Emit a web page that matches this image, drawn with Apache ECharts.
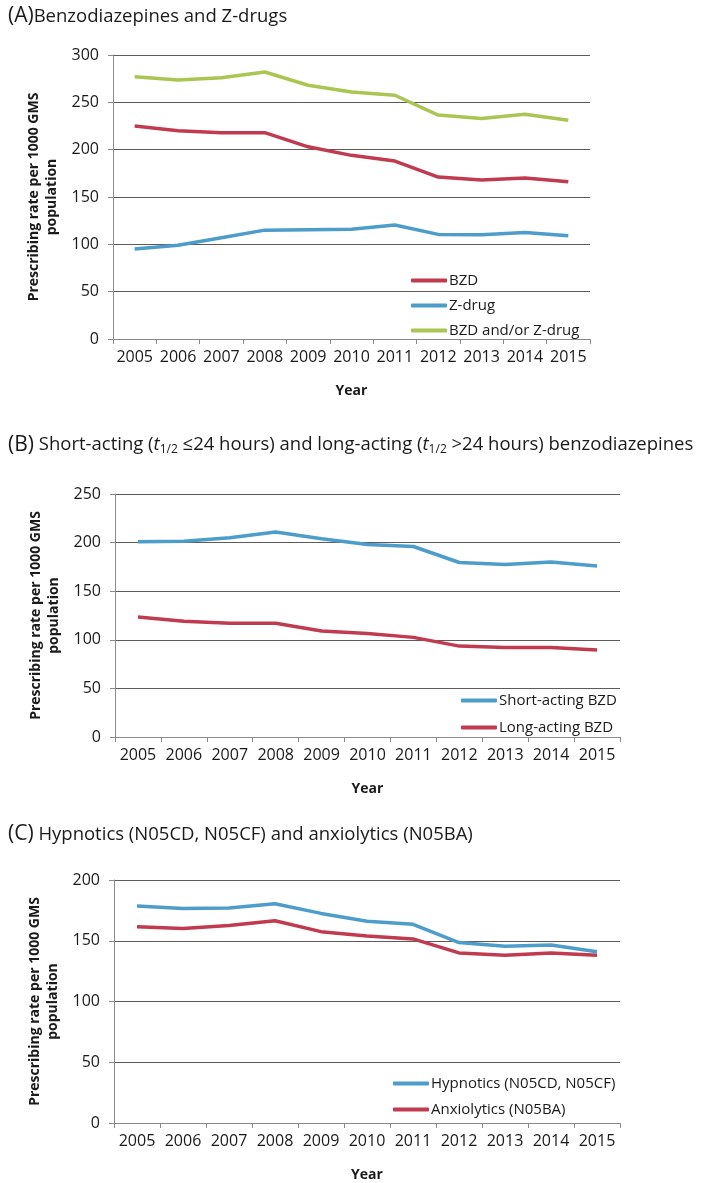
<!DOCTYPE html>
<html>
<head>
<meta charset="utf-8">
<script src="https://cdn.jsdelivr.net/npm/echarts@6/dist/echarts.min.js"></script>
<style>
html,body{margin:0;padding:0;background:#fff;}
#chart{width:709px;height:1183px;}
</style>
</head>
<body>
<div id="chart"></div>
<script>
// ---- data ----
var years = ['2005','2006','2007','2008','2009','2010','2011','2012','2013','2014','2015'];

// Panel A
var bzd      = [225, 220, 218, 218, 203, 194, 188, 171, 168, 170, 166];
var zdrug    = [95, 99, 107, 115, 115.5, 116, 120.5, 110.5, 110, 112.5, 109];
var bzdOrZ   = [277, 273.5, 276, 282, 268, 261, 257.5, 236.5, 233, 237.5, 231];

// Panel B
var shortActing = [201, 201.5, 205, 211, 204, 198, 196, 179.5, 177.5, 180, 176];
var longActing  = [123.5, 119, 117, 117, 109, 106.5, 102.5, 93.5, 92, 92, 89.5];

// Panel C
var hypnotics   = [178.5, 176.5, 177, 180.5, 172.5, 166, 163.5, 148.5, 145.5, 146.5, 141];
var anxiolytics = [161.5, 160, 162.5, 166.5, 157.5, 154, 151.5, 140, 138, 140, 138];

var yTicksA = {min: 0, max: 300, interval: 50};
var yTicksB = {min: 0, max: 250, interval: 50};
var yTicksC = {min: 0, max: 200, interval: 50};

// ---- style ----
var RED = '#c03a50', BLUE = '#4c9dca', GREEN = '#aac552';
var FONT = '"Open Sans", "Liberation Sans", sans-serif';
var TXT = '#1a1a1a';
var GRIDC = '#5e5a58';
var AXISC = '#8a8a8a';

function xAx(gi) {
  return {
    type: 'category', gridIndex: gi, data: years, boundaryGap: true,
    name: 'Year', nameLocation: 'middle', nameGap: 45,
    nameTextStyle: {fontFamily: FONT, fontSize: 14, fontWeight: 'bold', color: TXT},
    axisLine: {show: true, lineStyle: {color: AXISC, width: 1}},
    axisTick: {show: true, length: 5, interval: 0, lineStyle: {color: AXISC}},
    axisLabel: {fontFamily: FONT, fontSize: 16, color: TXT, margin: 10, interval: 0},
    splitLine: {show: false}
  };
}
function yAx(gi, t) {
  return {
    type: 'value', gridIndex: gi, min: t.min, max: t.max, interval: t.interval,
    name: 'Prescribing rate per 1000 GMS\npopulation',
    nameLocation: 'middle', nameRotate: 90, nameGap: 50,
    nameTextStyle: {fontFamily: FONT, fontSize: 14, fontWeight: 'bold', color: TXT, lineHeight: 18},
    axisLine: {show: true, lineStyle: {color: AXISC, width: 1}},
    axisTick: {show: true, length: 5, lineStyle: {color: AXISC}},
    axisLabel: {fontFamily: FONT, fontSize: 16, color: TXT, margin: 14},
    splitLine: {show: true, lineStyle: {color: GRIDC, width: 1}}
  };
}
function ser(name, data, color, idx) {
  return {
    type: 'line', name: name, data: data, xAxisIndex: idx, yAxisIndex: idx,
    symbol: 'none', smooth: false,
    lineStyle: {color: color, width: 3.5},
    itemStyle: {color: color}
  };
}
function leg(names, left, top, gap) {
  return {
    data: names, orient: 'vertical', left: left, top: top,
    icon: 'roundRect', itemWidth: 36, itemHeight: 4, itemGap: gap, padding: 0,
    textStyle: {fontFamily: FONT, fontSize: 15, color: TXT, padding: [0, 0, 0, -3]},
    selectedMode: false
  };
}

var titleRich = {
  a: {fontFamily: FONT, fontSize: 21, fontWeight: 'normal', color: TXT},
  b: {fontFamily: FONT, fontSize: 18.5, fontWeight: 'normal', color: TXT},
  i: {fontFamily: FONT, fontSize: 18.5, fontWeight: 'normal', fontStyle: 'italic', color: TXT},
  s: {fontFamily: FONT, fontSize: 12, fontWeight: 'normal', color: TXT, padding: [10, 0, 0, 0]}
};

var option = {
  backgroundColor: '#fff',
  animation: false,
  title: [
    {text: '{a|(A)}{b|Benzodiazepines and Z-drugs}', left: 3, top: 1, textStyle: {fontWeight: 'normal', rich: titleRich}},
    {text: '{a|(B)}{b| Short-acting (}{i|t}{s|1/2}{b| ≤24 hours) and long-acting (}{i|t}{s|1/2}{b| >24 hours) benzodiazepines}', left: 3, top: 429, textStyle: {fontWeight: 'normal', rich: titleRich}},
    {text: '{a|(C)}{b| Hypnotics (N05CD, N05CF) and anxiolytics (N05BA)}', left: 3, top: 819, textStyle: {fontWeight: 'normal', rich: titleRich}}
  ],
  legend: [
    leg(['BZD', 'Z-drug', 'BZD and/or Z-drug'], 411, 273, 10),
    leg(['Short-acting BZD', 'Long-acting BZD'], 461, 693, 12),
    leg(['Hypnotics (N05CD, N05CF)', 'Anxiolytics (N05BA)'], 393, 1076, 11)
  ],
  grid: [
    {left: 113, top: 55, width: 477, height: 284},
    {left: 115, top: 494, width: 505, height: 243},
    {left: 114, top: 880, width: 506, height: 243}
  ],
  xAxis: [xAx(0), xAx(1), xAx(2)],
  yAxis: [yAx(0, yTicksA), yAx(1, yTicksB), yAx(2, yTicksC)],
  series: [
    ser('BZD', bzd, RED, 0),
    ser('Z-drug', zdrug, BLUE, 0),
    ser('BZD and/or Z-drug', bzdOrZ, GREEN, 0),
    ser('Short-acting BZD', shortActing, BLUE, 1),
    ser('Long-acting BZD', longActing, RED, 1),
    ser('Hypnotics (N05CD, N05CF)', hypnotics, BLUE, 2),
    ser('Anxiolytics (N05BA)', anxiolytics, RED, 2)
  ]
};

var chart = echarts.init(document.getElementById('chart'), null, {renderer: 'canvas'});
chart.setOption(option);
</script>
</body>
</html>
